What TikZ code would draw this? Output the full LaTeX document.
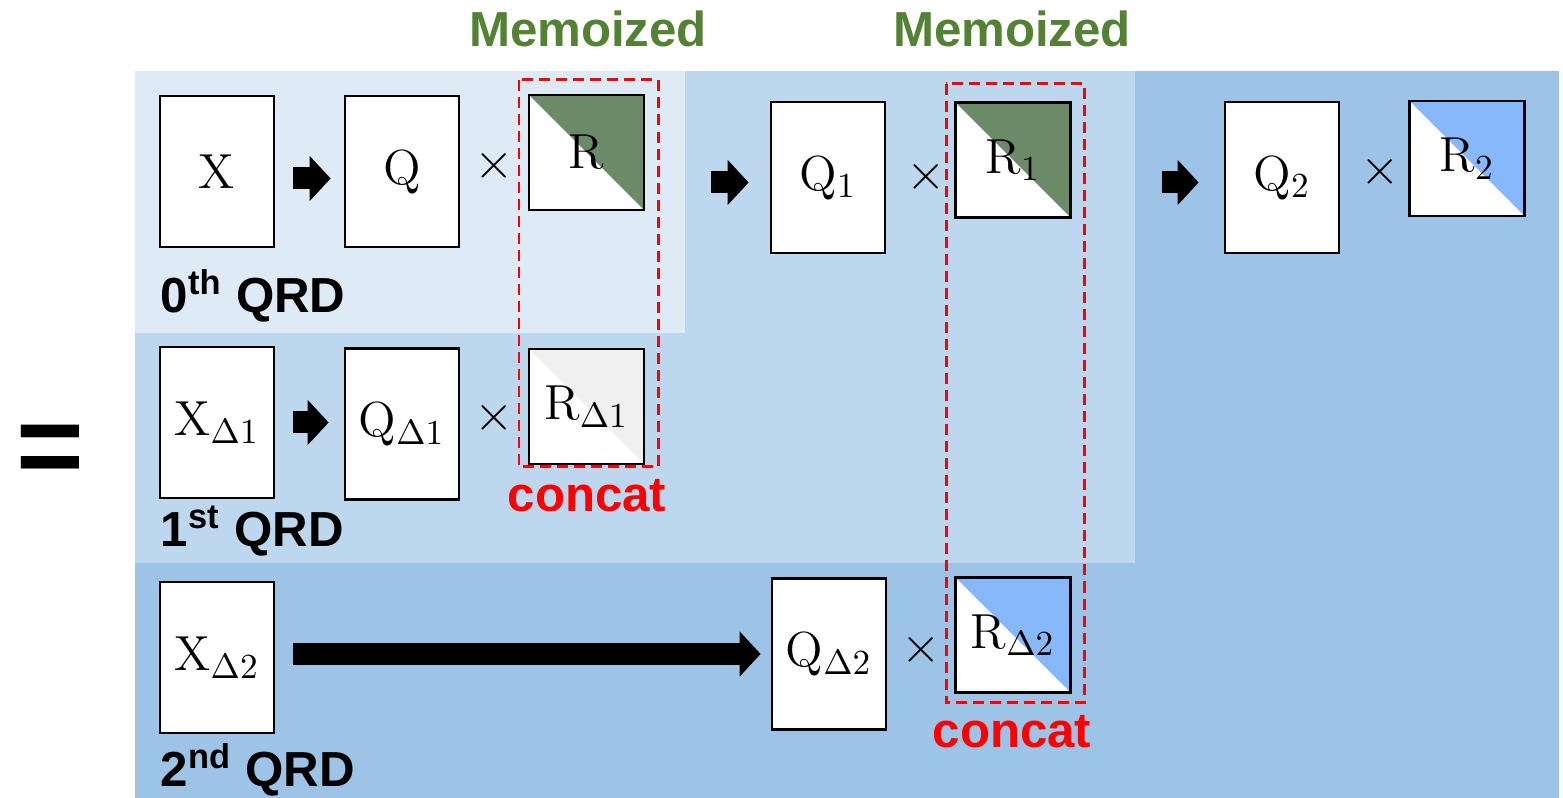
\documentclass[tikz,border=0pt]{standalone}
\usepackage{fontspec}
\setsansfont{Liberation Sans}
\usetikzlibrary{arrows.meta,positioning}
\definecolor{bgLight}{RGB}{222,235,247}
\definecolor{bgMid}{RGB}{189,215,238}
\definecolor{bgDark}{RGB}{157,195,230}
\definecolor{memoGreen}{RGB}{84,130,53}
\definecolor{rGreen}{RGB}{106,138,104}
\definecolor{rBlue}{RGB}{134,184,251}
\definecolor{rGray}{RGB}{240,240,240}
\begin{document}
\begin{tikzpicture}[x=0.01cm, y=-0.01cm,
	mat/.style = {rectangle, draw=black, line width=0.75pt, fill=white, minimum width=1.14cm, minimum height=1.51cm, inner sep=0pt, font=\fontsize{14}{16}\selectfont},
	rmat/.style = {mat, minimum height=1.15cm, minimum width=1.15cm, path picture={\fill[#1] (path picture bounding box.north west) -- (path picture bounding box.north east) -- (path picture bounding box.south east) -- cycle;}},
	blk/.style = {line width=0.22cm, -{Triangle[length=0.21cm, width=0.44cm]}},
	times/.style = {font=\fontsize{14}{16}\selectfont, inner sep=0pt},
	boldlbl/.style = {font=\sffamily\bfseries\fontsize{14}{16}\selectfont, inner sep=0pt},
	qrd/.style = {boldlbl, anchor=base west},
	concat/.style = {boldlbl, text=red, anchor=base},
	memo/.style = {boldlbl, text=memoGreen, anchor=base},
	catbox/.style = {draw=red, line width=0.85pt, dash pattern=on 0.11cm off 0.06cm}]
	\useasboundingbox (0,0) rectangle (1563,798);
	% backgrounds
	\fill[bgDark] (135,71) rectangle (1559,798);
	\fill[bgMid] (135,71) rectangle (1135,563);
	\fill[bgLight] (135,71) rectangle (685,333);
	\node (eq) [font=\sffamily\bfseries\fontsize{33}{33}\selectfont, anchor=base, inner sep=0pt] at (50,486) {=};
	% 0th QRD
	\node (X) [mat] at (217,171.5) {$\mathrm{X}$};
	\node (Q) [mat] at (402,171.5) {$\mathrm{Q}$};
	\node (R) [rmat=rGreen] at (586.5,152.5) {$\mathrm{R}$};
	\node (x0) [times] at (494,166) {$\times$};
	\node (Q1) [mat] at (828,177.5) {$\mathrm{Q}_{1}$};
	\node (R1) [rmat=rGreen] at (1013,160) {$\mathrm{R}_{1}$};
	\node (x01) [times] at (926,177) {$\times$};
	\node (Q2) [mat] at (1282,177.5) {$\mathrm{Q}_{2}$};
	\node (R2) [rmat=rBlue] at (1467,158.5) {$\mathrm{R}_{2}$};
	\node (x02) [times] at (1380,172) {$\times$};
	\node (l0) [qrd] at (160,313) {0\textsuperscript{th} QRD};
	% 1st QRD
	\node (XD1) [mat] at (217,422.5) {$\mathrm{X}_{\Delta 1}$};
	\node (QD1) [mat] at (402,424) {$\mathrm{Q}_{\Delta 1}$};
	\node (RD1) [rmat=rGray] at (586.5,406.5) {$\mathrm{R}_{\Delta 1}$};
	\node (x1) [times] at (494,418) {$\times$};
	\node (l1) [qrd] at (160,547) {1\textsuperscript{st} QRD};
	% 2nd QRD
	\node (XD2) [mat] at (217,657.5) {$\mathrm{X}_{\Delta 2}$};
	\node (QD2) [mat] at (829,654) {$\mathrm{Q}_{\Delta 2}$};
	\node (RD2) [rmat=rBlue] at (1013,635) {$\mathrm{R}_{\Delta 2}$};
	\node (x2) [times] at (921,650) {$\times$};
	\node (l2) [qrd] at (160,787) {2\textsuperscript{nd} QRD};
	% arrows
	\coordinate (in0) at ([yshift=-0.07cm]Q.west);
	\coordinate (in1) at ([yshift=-0.05cm]Q1.west);
	\coordinate (in2) at ([yshift=-0.05cm]Q2.west);
	\draw [blk, shorten <=0.18cm, shorten >=0.13cm] (X.east |- in0) -- (in0);
	\draw [blk, shorten <=0.66cm, shorten >=0.21cm] (R.east |- in1) -- (in1);
	\draw [blk, shorten <=0.90cm, shorten >=0.25cm] (R1.east |- in2) -- (in2);
	\draw [blk, shorten <=0.18cm, shorten >=0.15cm] (XD1.east) -- (XD1.east -| QD1.west);
	\draw [blk, shorten <=0.18cm, shorten >=0.10cm] (XD2.east |- QD2.west) -- (QD2.west);
	% concat boxes
	\draw [catbox] (519,80) rectangle (658,467);
	\draw [catbox] (946,84) rectangle (1084,703);
	\node (c1) [concat] at (587,512) {concat};
	\node (c2) [concat] at (1012,748) {concat};
	\node (m1) [memo] at (588,47) {Memoized};
	\node (m2) [memo] at (1012,47) {Memoized};
\end{tikzpicture}
\end{document}
